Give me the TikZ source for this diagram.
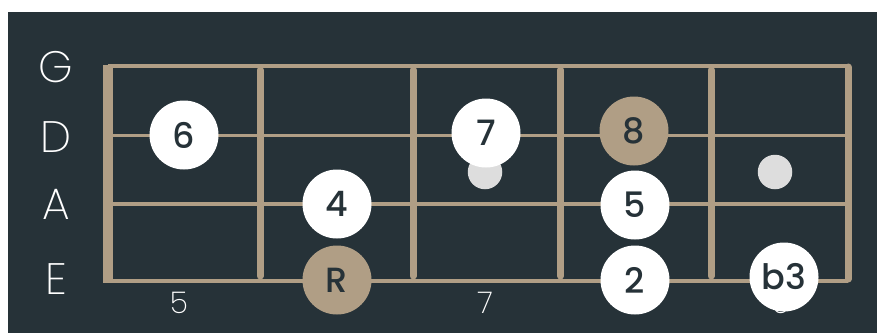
\documentclass[tikz,border=0pt]{standalone}
\usepackage{fontspec}
\setmainfont{Poppins}
\newfontfamily\lightfont{Poppins ExtraLight}
\newfontfamily\notefont{Poppins Medium}
\usetikzlibrary{positioning}
\definecolor{boardBg}{RGB}{38,50,56}
\definecolor{fretTan}{RGB}{176,158,133}
\definecolor{inlayGray}{RGB}{221,221,221}

\begin{document}
\begin{tikzpicture}[x=1pt, y=-1pt,
  note/.style={circle, fill=white, minimum size=69pt, inner sep=0pt,
               text=boardBg, font=\notefont\fontsize{35}{35}\selectfont},
  rootnote/.style={note, fill=fretTan},
  inlay/.style={circle, fill=inlayGray, minimum size=34.5pt, inner sep=0pt},
  strlbl/.style={text=white, font=\lightfont\fontsize{44}{44}\selectfont},
  fretlbl/.style={text=white, font=\lightfont\fontsize{30}{30}\selectfont},
  strline/.style={draw=fretTan, line width=3.5pt},
  fretline/.style={draw=fretTan, line width=7pt, line cap=round}]

  \useasboundingbox (0,0) rectangle (877,333);
  \fill[boardBg] (8,12) rectangle (877,333);

  % strings
  \foreach \name/\y in {G/66,D/135.5,A/204,E/281} {
    \coordinate (s\name-l) at (108,\y);
    \coordinate (s\name-r) at (848,\y);
    \draw[strline] (s\name-l) -- (s\name-r);
  }
  \foreach \name/\y in {G/67,D/137,A/204,E/279}
    \node[strlbl] (lbl\name) at (56,\y) {\name};

  % nut and frets
  \coordinate (nut-t) at (108,64.5);
  \coordinate (nut-b) at (108,282.5);
  \draw[draw=fretTan, line width=10pt] (nut-t) -- (nut-b);
  \foreach \i/\x in {1/260,2/413,3/560.5,4/711} {
    \coordinate (f\i-t) at (\x,70);
    \coordinate (f\i-b) at (\x,276);
    \draw[fretline] (f\i-t) -- (f\i-b);
  }
  \coordinate (f5-t) at (848,67);
  \coordinate (f5-b) at (848,279);
  \draw[fretline] (f5-t) -- (f5-b);

  % fret numbers
  \node[fretlbl] (fn5) at (179,303) {5};
  \node[fretlbl] (fn7) at (485,303) {7};
  \node[fretlbl] (fn9) at (781,303) {9};

  % inlays
  \node[inlay] (dot7) at (485,172) {};
  \node[inlay] (dot9) at (775,172) {};

  % notes
  \node[note] (n6) at (184,135) {6};
  \node[note] (n4) at (337,204) {4};
  \node[rootnote] (nR) at (337,280) {R};
  \node[note] (n7) at (486,133) {7};
  \node[rootnote] (n8) at (634,131) {8};
  \node[note] (n5) at (635,205) {5};
  \node[note] (n2) at (635,280) {2};
  \node[note] (nb3) at (784,277) {b3};

\end{tikzpicture}
\end{document}
